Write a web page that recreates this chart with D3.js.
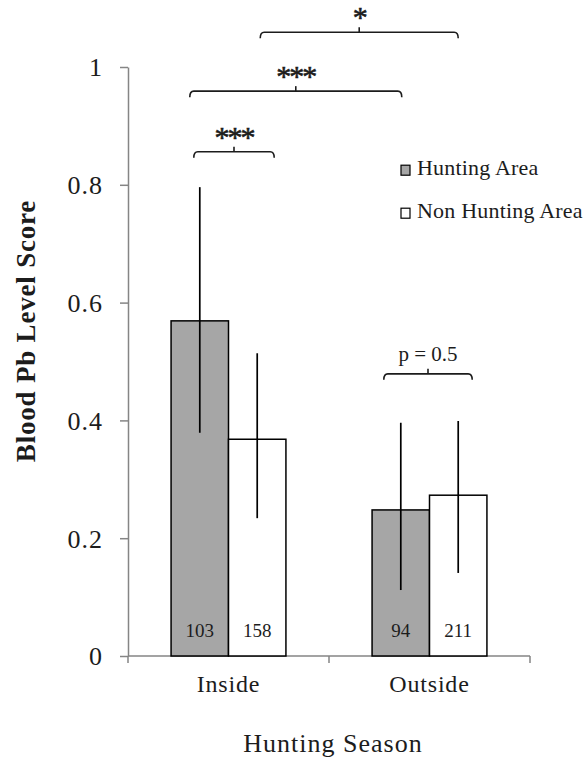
<!DOCTYPE html>
<html>
<head>
<meta charset="utf-8">
<script src="https://cdn.jsdelivr.net/npm/d3@7"></script>
<style>
  body { margin: 0; background: #fff; }
  svg { display: block; font-family: "Liberation Serif", "Times New Roman", serif; }
</style>
</head>
<body>
<svg id="chart" width="583" height="760"></svg>
<script>
// values
const seasons = ["Inside", "Outside"];
const areas = ["Hunting Area", "Non Hunting Area"];
const huntingMean = [0.569, 0.248];
const nonHuntingMean = [0.368, 0.273];
const huntingLow = [0.379, 0.112];
const huntingHigh = [0.796, 0.396];
const nonHuntingLow = [0.234, 0.141];
const nonHuntingHigh = [0.514, 0.399];
const huntingN = [103, 94];
const nonHuntingN = [158, 211];
const yTicks = [0, 0.2, 0.4, 0.6, 0.8, 1];

// significance brackets: [season, area] ends, label, level (score units), end nudges
const comparisons = [
  { a: ["Inside", "Hunting Area"], b: ["Inside", "Non Hunting Area"], label: "***", level: 0.856, nudge: [-6, 17] },
  { a: ["Inside", "Hunting Area"], b: ["Outside", "Hunting Area"], label: "***", level: 0.959, nudge: [-10, 1] },
  { a: ["Inside", "Non Hunting Area"], b: ["Outside", "Non Hunting Area"], label: "*", level: 1.059, nudge: [3, 0] },
  { a: ["Outside", "Hunting Area"], b: ["Outside", "Non Hunting Area"], label: "p = 0.5", level: 0.479, nudge: [-17, 14] },
];

const rows = [];
seasons.forEach((s, i) => {
  rows.push({ season: s, area: areas[0], mean: huntingMean[i], lo: huntingLow[i], hi: huntingHigh[i], n: huntingN[i] });
  rows.push({ season: s, area: areas[1], mean: nonHuntingMean[i], lo: nonHuntingLow[i], hi: nonHuntingHigh[i], n: nonHuntingN[i] });
});

const svg = d3.select("#chart");
const margin = { top: 67, right: 53, bottom: 104, left: 128 };
const width = 583 - margin.left - margin.right;
const height = 760 - margin.top - margin.bottom;
const g = svg.append("g").attr("transform", `translate(${margin.left},${margin.top})`);

const x0 = d3.scaleBand().domain(seasons).range([0, width]);
const x1 = d3.scaleBand().domain(areas).range([0, x0.bandwidth()]).paddingInner(0).paddingOuter(0.75);
const y = d3.scaleLinear().domain([0, 1]).range([height, 0]);
const color = d3.scaleOrdinal(areas, ["#a6a6a6", "#ffffff"]);
const cx = (s, a) => x0(s) + x1(a) + x1.bandwidth() / 2;

const axisColor = "#858585";
const ink = "#1c1c1c";
const serif = "'Liberation Serif', 'Times New Roman', serif";

// y axis
const yAxis = g.append("g")
  .call(d3.axisLeft(y).tickValues(yTicks).tickSize(8).tickSizeOuter(0).tickPadding(17).tickFormat(d3.format("")))
  .attr("font-family", serif);
yAxis.select(".domain").attr("stroke", axisColor).attr("stroke-width", 1.5);
yAxis.selectAll(".tick line").attr("stroke", axisColor).attr("stroke-width", 1.5);
yAxis.selectAll(".tick text").attr("fill", ink).attr("dy", "0.34em")
  .style("font-size", "26px").style("letter-spacing", "1px");

// x axis: ticks at band boundaries
const xAxis = g.append("g").attr("transform", `translate(0,${height})`);
xAxis.append("line").attr("x1", 0).attr("x2", width).attr("stroke", axisColor).attr("stroke-width", 1.5);
xAxis.selectAll("line.tk")
  .data([0, ...seasons.map((s) => x0(s) + x0.bandwidth())])
  .join("line").attr("class", "tk")
  .attr("x1", (d) => d).attr("x2", (d) => d).attr("y1", 0).attr("y2", 7)
  .attr("stroke", axisColor).attr("stroke-width", 1.5);
xAxis.selectAll("text")
  .data(seasons).join("text")
  .attr("x", (d) => x0(d) + x0.bandwidth() / 2)
  .attr("y", 36)
  .attr("text-anchor", "middle")
  .attr("fill", ink)
  .style("font-size", "24px").style("letter-spacing", "0.8px")
  .text((d) => d);

// bars
g.append("g").selectAll("rect")
  .data(rows).join("rect")
  .attr("x", (d) => x0(d.season) + x1(d.area))
  .attr("y", (d) => y(d.mean))
  .attr("width", x1.bandwidth())
  .attr("height", (d) => height - y(d.mean))
  .attr("fill", (d) => color(d.area))
  .attr("stroke", "#000").attr("stroke-width", 1.5);

// error bars (no caps)
g.append("g").selectAll("line")
  .data(rows).join("line")
  .attr("x1", (d) => cx(d.season, d.area)).attr("x2", (d) => cx(d.season, d.area))
  .attr("y1", (d) => y(d.lo)).attr("y2", (d) => y(d.hi))
  .attr("stroke", "#000").attr("stroke-width", 1.7);

// sample sizes
g.append("g").selectAll("text")
  .data(rows).join("text")
  .attr("x", (d) => cx(d.season, d.area))
  .attr("y", height - 19)
  .attr("text-anchor", "middle")
  .attr("fill", ink)
  .style("font-size", "19px")
  .text((d) => d.n);

// brackets
const br = g.append("g");
comparisons.forEach((c) => {
  const xa = cx(c.a[0], c.a[1]) + c.nudge[0];
  const xb = cx(c.b[0], c.b[1]) + c.nudge[1];
  const yy = y(c.level);
  const mid = (xa + xb) / 2;
  br.append("path")
    .attr("d", `M${xa},${yy + 6} Q${xa},${yy} ${xa + 4},${yy} L${xb - 4},${yy} Q${xb},${yy} ${xb},${yy + 6}`)
    .attr("fill", "none").attr("stroke", ink).attr("stroke-width", 1.6);
  br.append("line")
    .attr("x1", mid).attr("x2", mid).attr("y1", yy).attr("y2", yy - 5)
    .attr("stroke", ink).attr("stroke-width", 1.6);
  const star = c.label.startsWith("*");
  br.append("text")
    .attr("x", mid)
    .attr("y", star ? yy - 5 : yy - 13)
    .attr("text-anchor", "middle")
    .attr("fill", ink)
    .attr("stroke", star ? ink : "none")
    .attr("stroke-width", star ? 0.6 : 0)
    .style("font-size", star ? "30px" : "21px")
    .style("letter-spacing", star ? "-2px" : "0px")
    .text(c.label);
});

// legend
const legend = g.append("g").attr("transform", `translate(${width - 129},${y(0.818)})`);
legend.selectAll("g")
  .data(areas).join("g")
  .attr("transform", (_d, i) => `translate(0,${i * 43})`)
  .each(function (d) {
    const it = d3.select(this);
    it.append("rect").attr("x", 0).attr("y", -9).attr("width", 9).attr("height", 10)
      .attr("fill", color(d)).attr("stroke", "#000").attr("stroke-width", 1.2);
    it.append("text").attr("x", 16).attr("y", 1)
      .attr("fill", ink).style("font-size", "22px").style("letter-spacing", "0.2px")
      .text(d);
  });

// axis titles
svg.append("text")
  .attr("transform", `translate(35,331) rotate(-90)`)
  .attr("text-anchor", "middle")
  .attr("fill", ink)
  .style("font-size", "27px").style("font-weight", "bold").style("letter-spacing", "0.8px")
  .text("Blood Pb Level Score");

svg.append("text")
  .attr("x", margin.left + width / 2 + 4)
  .attr("y", 752)
  .attr("text-anchor", "middle")
  .attr("fill", ink)
  .style("font-size", "26px").style("letter-spacing", "1px")
  .text("Hunting Season");
</script>
</body>
</html>
